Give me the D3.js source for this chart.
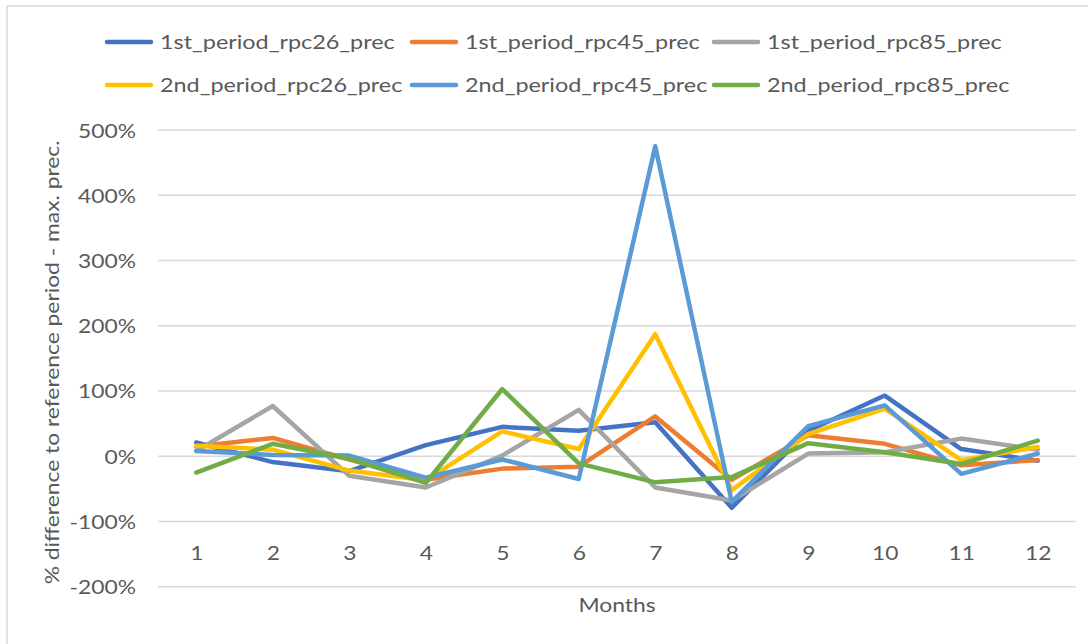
<!DOCTYPE html>
<html>
<head>
<meta charset="utf-8">
<script src="https://cdn.jsdelivr.net/npm/d3@7"></script>
<style>
  html, body { margin: 0; padding: 0; background: #fff; }
  svg text { font-family: Lato, "Open Sans", sans-serif; fill: #595959; }
</style>
</head>
<body>
<svg id="chart" width="1088" height="644"></svg>
<script>
// Months on the category axis
const months = ["1", "2", "3", "4", "5", "6", "7", "8", "9", "10", "11", "12"];

// Percentage difference to the reference period (max. precipitation)
const p1_rpc26 = [21, -9, -23, 17, 45, 39, 52, -79, 39, 93, 11, -7];
const p1_rpc45 = [15, 28, -5, -36, -19, -16, 61, -36, 32, 19, -14, -6];
const p1_rpc85 = [8, 77, -30, -48, 1, 71, -48, -68, 4, 6, 27, 10];
const p2_rpc26 = [16, 10, -22, -37, 38, 11, 187, -52, 34, 73, -6, 14];
const p2_rpc45 = [8, 2, 1, -33, -5, -35, 475, -70, 46, 78, -27, 4];
const p2_rpc85 = [-25, 19, -4, -41, 103, -11, -40, -32, 20, 6, -12, 24];

const seriesNames = [
  "1st_period_rpc26_prec", "1st_period_rpc45_prec", "1st_period_rpc85_prec",
  "2nd_period_rpc26_prec", "2nd_period_rpc45_prec", "2nd_period_rpc85_prec"
];
const seriesValues = [p1_rpc26, p1_rpc45, p1_rpc85, p2_rpc26, p2_rpc45, p2_rpc85];
const colors = ["#4472C4", "#ED7D31", "#A5A5A5", "#FFC000", "#5B9BD5", "#70AD47"];

const yTicks = [-200, -100, 0, 100, 200, 300, 400, 500];

const svg = d3.select("#chart");
const FS = 19.5;      // font size
const SX = 1.17;      // horizontal text stretch for axis labels
const SL = 1.2;       // horizontal text stretch for legend entries

const plot = { left: 158, right: 1076, top: 130, bottom: 586.7 };

const x = d3.scalePoint().domain(months).range([plot.left, plot.right]).padding(0.5);
const y = d3.scaleLinear().domain([-200, 500]).range([plot.bottom, plot.top]);

// chart frame
svg.append("rect")
  .attr("x", 7).attr("y", 6).attr("width", 1200).attr("height", 800)
  .attr("fill", "#fff").attr("stroke", "#D9D9D9").attr("stroke-width", 1.5);

// horizontal gridlines
svg.append("g").selectAll("line").data(yTicks).join("line")
  .attr("x1", plot.left).attr("x2", plot.right)
  .attr("y1", d => y(d)).attr("y2", d => y(d))
  .attr("stroke", "#D9D9D9").attr("stroke-width", 1.5);

// y axis labels
const yAxis = svg.append("g")
  .attr("transform", `translate(${plot.left},0)`)
  .call(d3.axisLeft(y).tickValues(yTicks).tickSize(0).tickFormat(d => d + "%"));
yAxis.select(".domain").remove();
yAxis.selectAll("text")
  .attr("x", null).attr("dy", "0.36em")
  .attr("transform", `translate(-22,0) scale(${SX},1)`)
  .attr("font-size", FS).attr("font-family", null).attr("fill", null);

// x axis labels
const xAxis = svg.append("g")
  .attr("transform", `translate(0,546)`)
  .call(d3.axisBottom(x).tickSize(0).tickPadding(0));
xAxis.select(".domain").remove();
xAxis.selectAll("text")
  .attr("y", null).attr("x", null).attr("dy", "0.72em")
  .attr("transform", `scale(${SX},1)`)
  .attr("font-size", FS).attr("font-family", null).attr("fill", null);

// axis titles
svg.append("text")
  .attr("transform", `translate(${(plot.left + plot.right) / 2},612) scale(${SX},1)`)
  .attr("text-anchor", "middle").attr("font-size", FS)
  .text("Months");

svg.append("text")
  .attr("transform", `translate(59,${(plot.top + plot.bottom) / 2 + 4}) rotate(-90) scale(${SX},1)`)
  .attr("text-anchor", "middle").attr("font-size", FS)
  .text("% difference to reference period - max. prec.");

// series lines
const line = d3.line()
  .x((d, i) => x(months[i]))
  .y(d => y(d));

svg.append("g").selectAll("path").data(seriesValues).join("path")
  .attr("d", d => line(d))
  .attr("fill", "none")
  .attr("stroke", (d, i) => colors[i])
  .attr("stroke-width", 4.5)
  .attr("stroke-linejoin", "round")
  .attr("stroke-linecap", "round");

// legend: two rows of three entries
const legendCols = [107, 412, 714];
const legendRows = [42, 85];
const legend = svg.append("g").selectAll("g").data(seriesNames).join("g")
  .attr("transform", (d, i) => `translate(${legendCols[i % 3]},${legendRows[Math.floor(i / 3)]})`);
legend.append("line")
  .attr("x1", 0).attr("x2", 44).attr("y1", 0).attr("y2", 0)
  .attr("stroke", (d, i) => colors[i]).attr("stroke-width", 4.5)
  .attr("stroke-linecap", "round");
legend.append("text")
  .attr("transform", `translate(53,0) scale(${SL},1)`)
  .attr("dy", "0.36em").attr("font-size", FS)
  .text(d => d);
</script>
</body>
</html>
